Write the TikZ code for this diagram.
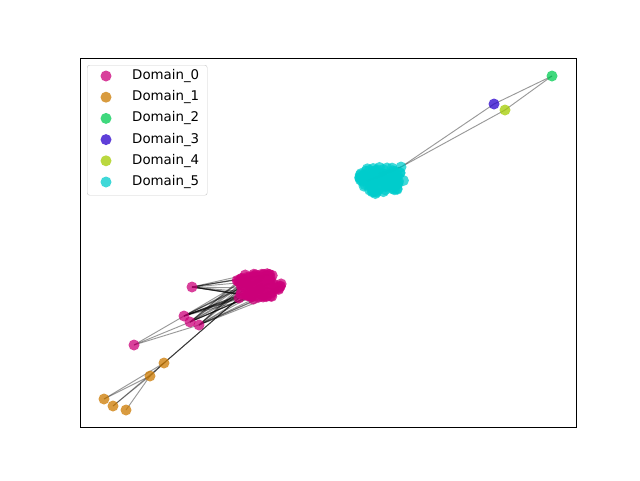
\documentclass[tikz,border=0pt]{standalone}
\usepackage{fontspec}
\setmainfont{DejaVu Sans}
\usetikzlibrary{backgrounds}

\definecolor{dom0}{RGB}{204,0,122}
\definecolor{dom1}{RGB}{204,122,0}
\definecolor{dom2}{RGB}{0,204,82}
\definecolor{dom3}{RGB}{41,0,204}
\definecolor{dom4}{RGB}{163,204,0}
\definecolor{dom5}{RGB}{0,204,204}

\begin{document}
\begin{tikzpicture}[x=0.3mm, y=-0.3mm,
    dot/.style={circle, inner sep=0pt, minimum size=3.3mm, fill opacity=0.75},
    link/.style={draw=black, draw opacity=0.4, line width=0.8pt},
    entry/.style={anchor=west, inner sep=0pt, font=\fontsize{11.4}{13}\selectfont}]
    \useasboundingbox (0,0) rectangle (640,480);
    \pgfmathsetseed{11}

    % clusters
    \foreach \i in {1,...,110}{
        \pgfmathsetmacro\ang{rnd*360}
        \pgfmathsetmacro\rad{sqrt(rnd)}
        \node[dot, fill=dom0] (a\i) at ({258+24*\rad*cos(\ang)},{286+13.5*\rad*sin(\ang)}) {};
    }
    \foreach \i in {1,...,110}{
        \pgfmathsetmacro\ang{rnd*360}
        \pgfmathsetmacro\rad{sqrt(rnd)}
        \node[dot, fill=dom5] (c\i) at ({380+23.5*\rad*cos(\ang)},{180+14*\rad*sin(\ang)}) {};
    }

    % Domain_0 points
    \node[dot, fill=dom0] (p1) at (192,287) {};
    \node[dot, fill=dom0] (p2) at (184,316) {};
    \node[dot, fill=dom0] (p3) at (190,322) {};
    \node[dot, fill=dom0] (p4) at (199,325) {};
    \node[dot, fill=dom0] (p5) at (134,345) {};
    \node[dot, fill=dom0] (p6) at (239,298) {};

    % Domain_1 points
    \node[dot, fill=dom1] (q1) at (164,363) {};
    \node[dot, fill=dom1] (q2) at (150,376) {};
    \node[dot, fill=dom1] (q3) at (104,399) {};
    \node[dot, fill=dom1] (q4) at (113,406) {};
    \node[dot, fill=dom1] (q5) at (126,410) {};

    % Domain_5, 3, 4, 2 points
    \node[dot, fill=dom5] (r1) at (401,167) {};
    \node[dot, fill=dom3] (b1) at (494,104) {};
    \node[dot, fill=dom4] (y1) at (505,110) {};
    \node[dot, fill=dom2] (g1) at (552,76) {};

    % edges
    \begin{pgfonlayer}{background}
        \foreach \j in {1,...,12} \draw[link] (p1.center) -- (a\j.center);
        \foreach \j in {13,...,24} \draw[link] (p2.center) -- (a\j.center);
        \foreach \j in {25,...,34} \draw[link] (p3.center) -- (a\j.center);
        \foreach \j in {35,...,44} \draw[link] (p4.center) -- (a\j.center);
        \foreach \j in {p2,p3,p4} \draw[link] (p5.center) -- (\j.center);
        \foreach \j in {1,2,3} \draw[link] (q1.center) -- (p6.center);
        \foreach \j in {1,2} \draw[link] (q2.center) -- (q1.center);
        \foreach \j in {q1,q2} \draw[link] (q3.center) -- (\j.center);
        \foreach \j in {q1,q2} \draw[link] (q4.center) -- (\j.center);
        \draw[link] (q5.center) -- (q2.center);
        \foreach \j in {1,...,4} \draw[link] (r1.center) -- (c\j.center);
        \draw[link] (r1.center) -- (b1.center);
        \draw[link] (b1.center) -- (g1.center);
        \draw[link] (r1.center) -- (y1.center);
        \draw[link] (y1.center) -- (g1.center);
    \end{pgfonlayer}

    % axes frame
    \node[draw, line width=0.8pt, inner sep=0pt, minimum width=496*0.3mm, minimum height=369*0.3mm,
          anchor=north west] (frame) at (80,58) {};

    % legend
    \node[draw=black!20, fill=white, fill opacity=0.8, rounded corners=2pt, inner sep=0pt,
          minimum width=120*0.3mm, minimum height=130*0.3mm, anchor=north west] (legend) at (87,65) {};
    \foreach \k/\col in {0/dom0,1/dom1,2/dom2,3/dom3,4/dom4,5/dom5}{
        \node[dot, fill=\col] (lm\k) at (106,{76+21.2*\k}) {};
        \node[entry] (lt\k) at (132,{76+21.2*\k}) {Domain\_\k};
    }
\end{tikzpicture}
\end{document}
